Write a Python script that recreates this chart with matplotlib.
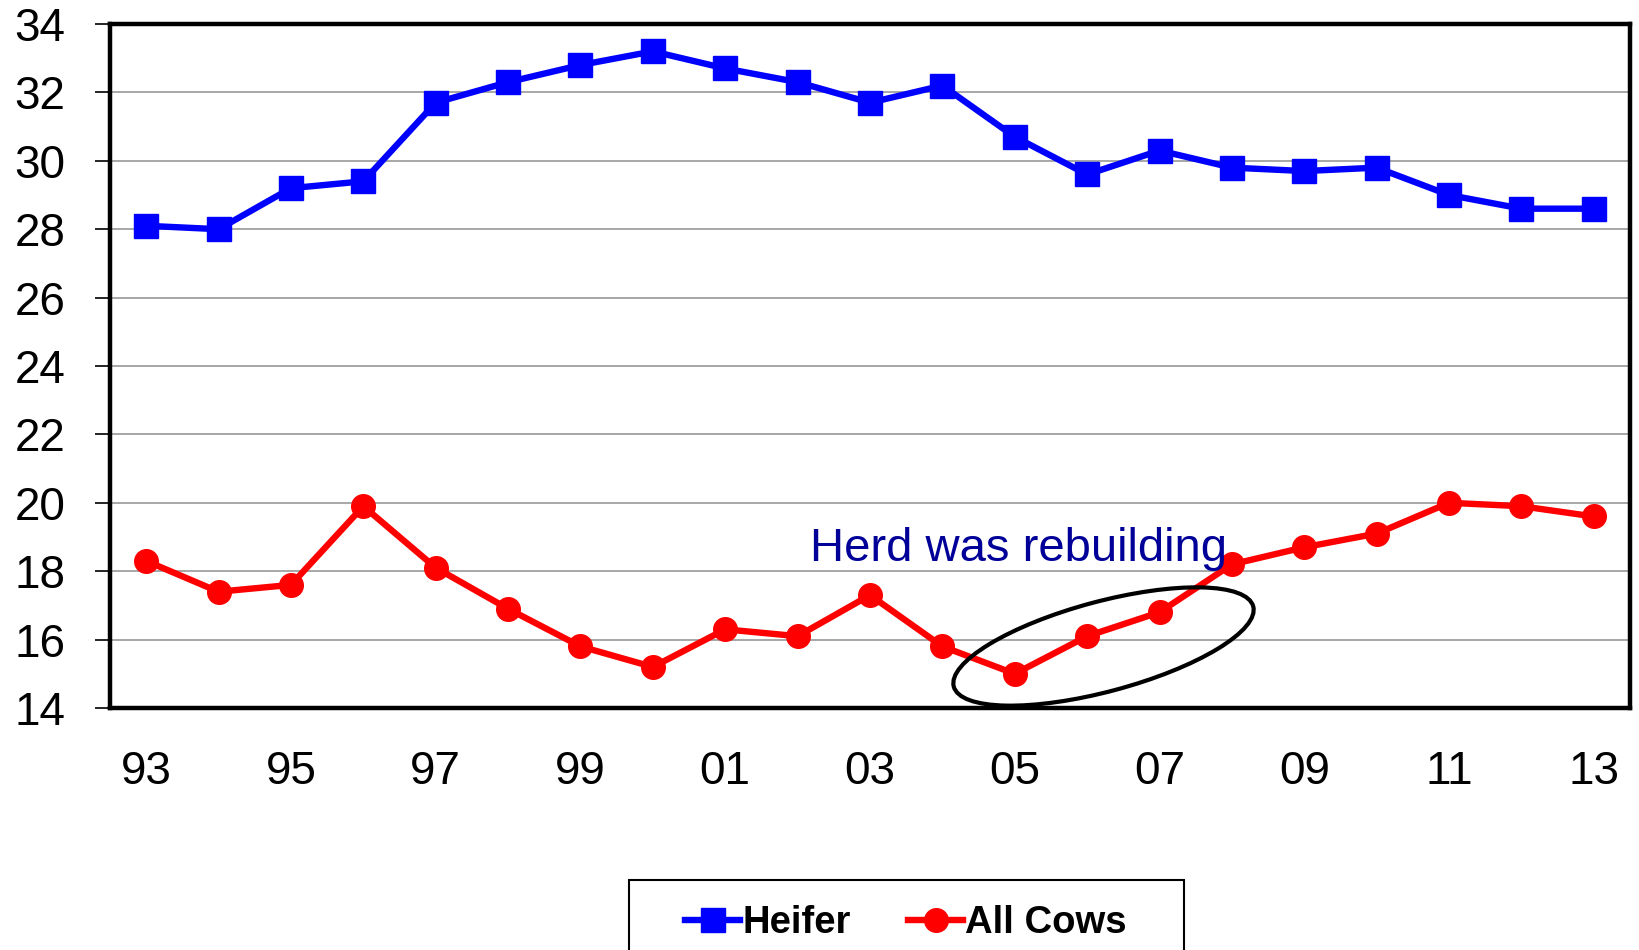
import matplotlib
matplotlib.use("Agg")
import matplotlib.pyplot as plt
from matplotlib.patches import Ellipse, Rectangle

plt.rcParams['font.family'] = ['Liberation Sans', 'DejaVu Sans']

# Daten
years = ['93', '94', '95', '96', '97', '98', '99', '00', '01', '02', '03',
         '04', '05', '06', '07', '08', '09', '10', '11', '12', '13']
heifer = [28.1, 28.0, 29.2, 29.4, 31.7, 32.3, 32.8, 33.2, 32.7, 32.3, 31.7,
          32.2, 30.7, 29.6, 30.3, 29.8, 29.7, 29.8, 29.0, 28.6, 28.6]
all_cows = [18.3, 17.4, 17.6, 19.9, 18.1, 16.9, 15.8, 15.2, 16.3, 16.1, 17.3,
            15.8, 15.0, 16.1, 16.8, 18.2, 18.7, 19.1, 20.0, 19.9, 19.6]
y_ticks = list(range(14, 35, 2))
shown_labels = ['93', '95', '97', '99', '01', '03', '05', '07', '09', '11', '13']

W, H = 1640, 950
fig = plt.figure(figsize=(W / 100, H / 100), dpi=100)
ax = fig.add_axes([110 / W, 1 - 708 / H, 1520 / W, 684 / H])

x = list(range(len(years)))
ax.plot(x, heifer, color='#0000FF', lw=4.6, marker='s', ms=17,
        label='Heifer', zorder=3)
ax.plot(x, all_cows, color='#FF0000', lw=4.6, marker='o', ms=17,
        label='All Cows', zorder=3)

ax.set_xlim(-0.5, len(years) - 0.5)
ax.set_ylim(14, 34)
ax.set_yticks(y_ticks)
ax.set_xticks([i for i, y in enumerate(years) if y in shown_labels])
ax.set_xticklabels(shown_labels)
ax.tick_params(axis='y', length=11, width=1.2, pad=21, labelsize=33)
ax.tick_params(axis='x', length=0, pad=30, labelsize=33)
ax.grid(axis='y', color='#A0A0A0', lw=1.3)
ax.set_axisbelow(True)
for s in ax.spines.values():
    s.set_linewidth(3.2)
    s.set_color('black')

# Anmerkung
ax.text(12.05, 18.65, 'Herd was rebuilding', color='#000099', fontsize=34,
        ha='center', va='center')
ell = Ellipse((1103.5 / 100, (H - 646.5) / 100), 3.10, 0.90, angle=15,
              transform=fig.dpi_scale_trans, fill=False, ec='black', lw=3,
              zorder=4)
fig.add_artist(ell)

# Legende
box = Rectangle((629 / W, -0.05), 555 / W, 0.05 + (H - 880) / H,
                transform=fig.transFigure, fill=False, ec='black', lw=1.5)
fig.add_artist(box)
fig.legend(loc='center', bbox_to_anchor=(906 / W, 1 - 923 / H), ncol=2,
           frameon=False, handlelength=1.45, handletextpad=0.05,
           columnspacing=1.5, prop={'weight': 'bold', 'size': 27.5})

fig.savefig('out.png', dpi=100)
